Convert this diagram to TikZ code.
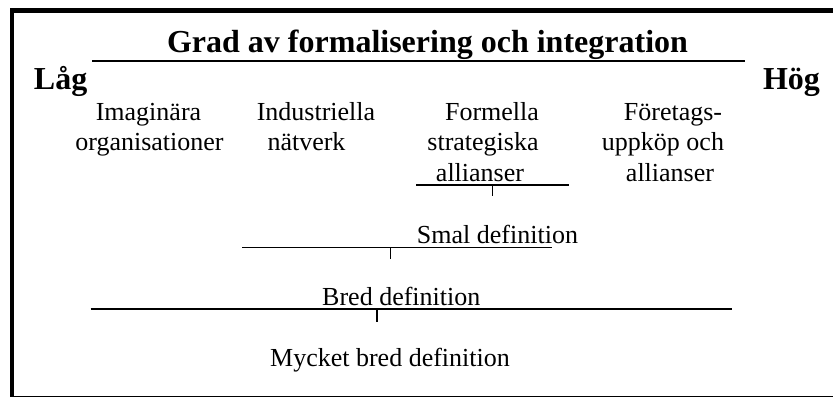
\documentclass[tikz,border=0pt]{standalone}
\usepackage{fontspec}
\setmainfont{Liberation Serif}
\begin{document}
\begin{tikzpicture}[x=1pt,y=-1pt,
  every node/.style={inner sep=0pt,outer sep=0pt,anchor=base},
  head/.style={font=\bfseries\fontsize{32}{36}\selectfont},
  item/.style={font=\fontsize{26}{30}\selectfont},
  rule/.style={line width=1.3pt},
  tick/.style={line width=1.3pt}]
\useasboundingbox (0,0) rectangle (833,399);

% frame: heavy top and left edges, thin bottom edge
\fill (10,8.3) rectangle (833,13);
\fill (10,8.3) rectangle (14.2,397);
\draw[line width=1pt] (10,396.7) -- (833,396.7);

% heading and the low/high scale
\node[head] (title) at (427.5,52) {Grad av formalisering och integration};
\node[head,anchor=base west] (low) at (34,89) {Låg};
\node[head,anchor=base west] (high) at (763,89) {Hög};
\coordinate (tl) at (92,61);
\coordinate (tr) at (745,61);
\draw[rule] (tl) -- (tr);

% the four forms of cooperation
\node[item] (im1) at (148.5,120) {Imaginära};
\node[item] (im2) at (149.5,150) {organisationer};
\node[item] (in1) at (316,120) {Industriella};
\node[item] (in2) at (306.5,150) {nätverk};
\node[item] (fo1) at (492,120) {Formella};
\node[item] (fo2) at (483,150) {strategiska};
\node[item] (fo3) at (480,181) {allianser};
\node[item] (fu1) at (673,120) {Företags-};
\node[item] (fu2) at (663,150) {uppköp och};
\node[item] (fu3) at (670,181) {allianser};

% narrowest range
\coordinate (a1) at (416,185);
\coordinate (a2) at (569,185);
\coordinate (at) at (492.7,185);
\coordinate (ab) at (492.7,196);
\draw[rule] (a1) -- (a2);
\draw[tick] (at) -- (ab);

% narrow definition
\node[item] (smal) at (497.5,243) {Smal definition};
\coordinate (b1) at (242,247.7);
\coordinate (b2) at (551.7,247.7);
\coordinate (bt) at (390.7,247.7);
\coordinate (bb) at (390.7,258.5);
\draw[rule] (b1) -- (b2);
\draw[tick] (bt) -- (bb);

% broad definition
\node[item] (bred) at (401.3,305) {Bred definition};
\coordinate (c1) at (90.7,309);
\coordinate (c2) at (731.7,309);
\coordinate (ct) at (377,309);
\coordinate (cb) at (377,322);
\draw[rule] (c1) -- (c2);
\draw[tick] (ct) -- (cb);

% very broad definition
\node[item] (mbred) at (390,366.7) {Mycket bred definition};
\end{tikzpicture}
\end{document}
